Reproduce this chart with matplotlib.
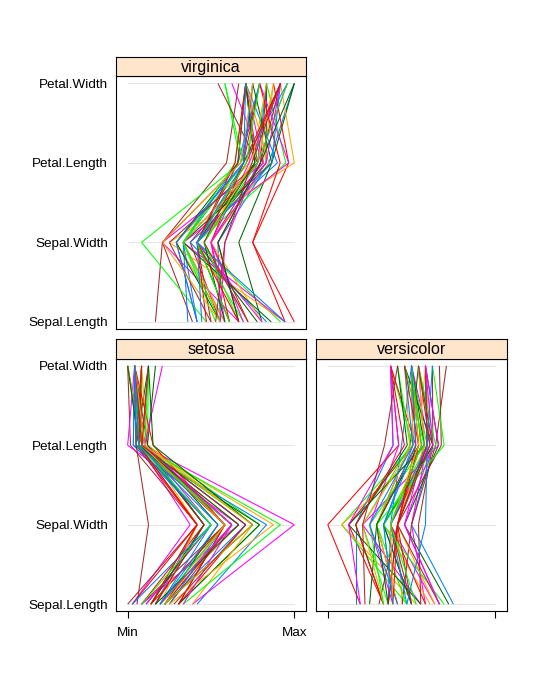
import matplotlib
matplotlib.use("Agg")
import matplotlib.pyplot as plt
from matplotlib.collections import LineCollection
import numpy as np

plt.rcParams['font.family'] = ['Liberation Sans', 'DejaVu Sans']

variables = ["Sepal.Length", "Sepal.Width", "Petal.Length", "Petal.Width"]
species_names = ["setosa", "versicolor", "virginica"]
species_counts = [50, 50, 50]

sepal_length = [
    5.1, 4.9, 4.7, 4.6, 5.0, 5.4, 4.6, 5.0, 4.4, 4.9, 5.4, 4.8, 4.8, 4.3, 5.8, 5.7, 5.4, 5.1, 5.7, 5.1,
    5.4, 5.1, 4.6, 5.1, 4.8, 5.0, 5.0, 5.2, 5.2, 4.7, 4.8, 5.4, 5.2, 5.5, 4.9, 5.0, 5.5, 4.9, 4.4, 5.1,
    5.0, 4.5, 4.4, 5.0, 5.1, 4.8, 5.1, 4.6, 5.3, 5.0,
    7.0, 6.4, 6.9, 5.5, 6.5, 5.7, 6.3, 4.9, 6.6, 5.2, 5.0, 5.9, 6.0, 6.1, 5.6, 6.7, 5.6, 5.8, 6.2, 5.6,
    5.9, 6.1, 6.3, 6.1, 6.4, 6.6, 6.8, 6.7, 6.0, 5.7, 5.5, 5.5, 5.8, 6.0, 5.4, 6.0, 6.7, 6.3, 5.6, 5.5,
    5.5, 6.1, 5.8, 5.0, 5.6, 5.7, 5.7, 6.2, 5.1, 5.7,
    6.3, 5.8, 7.1, 6.3, 6.5, 7.6, 4.9, 7.3, 6.7, 7.2, 6.5, 6.4, 6.8, 5.7, 5.8, 6.4, 6.5, 7.7, 7.7, 6.0,
    6.9, 5.6, 7.7, 6.3, 6.7, 7.2, 6.2, 6.1, 6.4, 7.2, 7.4, 7.9, 6.4, 6.3, 6.1, 7.7, 6.3, 6.4, 6.0, 6.9,
    6.7, 6.9, 5.8, 6.8, 6.7, 6.7, 6.3, 6.5, 6.2, 5.9,
]
sepal_width = [
    3.5, 3.0, 3.2, 3.1, 3.6, 3.9, 3.4, 3.4, 2.9, 3.1, 3.7, 3.4, 3.0, 3.0, 4.0, 4.4, 3.9, 3.5, 3.8, 3.8,
    3.4, 3.7, 3.6, 3.3, 3.4, 3.0, 3.4, 3.5, 3.4, 3.2, 3.1, 3.4, 4.1, 4.2, 3.1, 3.2, 3.5, 3.6, 3.0, 3.4,
    3.5, 2.3, 3.2, 3.5, 3.8, 3.0, 3.8, 3.2, 3.7, 3.3,
    3.2, 3.2, 3.1, 2.3, 2.8, 2.8, 3.3, 2.4, 2.9, 2.7, 2.0, 3.0, 2.2, 2.9, 2.9, 3.1, 3.0, 2.7, 2.2, 2.5,
    3.2, 2.8, 2.5, 2.8, 2.9, 3.0, 2.8, 3.0, 2.9, 2.6, 2.4, 2.4, 2.7, 2.7, 3.0, 3.4, 3.1, 2.3, 3.0, 2.5,
    2.6, 3.0, 2.6, 2.3, 2.7, 3.0, 2.9, 2.9, 2.5, 2.8,
    3.3, 2.7, 3.0, 2.9, 3.0, 3.0, 2.5, 2.9, 2.5, 3.6, 3.2, 2.7, 3.0, 2.5, 2.8, 3.2, 3.0, 3.8, 2.6, 2.2,
    3.2, 2.8, 2.8, 2.7, 3.3, 3.2, 2.8, 3.0, 2.8, 3.0, 2.8, 3.8, 2.8, 2.8, 2.6, 3.0, 3.4, 3.1, 3.0, 3.1,
    3.1, 3.1, 2.7, 3.2, 3.3, 3.0, 2.5, 3.0, 3.4, 3.0,
]
petal_length = [
    1.4, 1.4, 1.3, 1.5, 1.4, 1.7, 1.4, 1.5, 1.4, 1.5, 1.5, 1.6, 1.4, 1.1, 1.2, 1.5, 1.3, 1.4, 1.7, 1.5,
    1.7, 1.5, 1.0, 1.7, 1.9, 1.6, 1.6, 1.5, 1.4, 1.6, 1.6, 1.5, 1.5, 1.4, 1.5, 1.2, 1.3, 1.4, 1.3, 1.5,
    1.3, 1.3, 1.3, 1.6, 1.9, 1.4, 1.6, 1.4, 1.5, 1.4,
    4.7, 4.5, 4.9, 4.0, 4.6, 4.5, 4.7, 3.3, 4.6, 3.9, 3.5, 4.2, 4.0, 4.7, 3.6, 4.4, 4.5, 4.1, 4.5, 3.9,
    4.8, 4.0, 4.9, 4.7, 4.3, 4.4, 4.8, 5.0, 4.5, 3.5, 3.8, 3.7, 3.9, 5.1, 4.5, 4.5, 4.7, 4.4, 4.1, 4.0,
    4.4, 4.6, 4.0, 3.3, 4.2, 4.2, 4.2, 4.3, 3.0, 4.1,
    6.0, 5.1, 5.9, 5.6, 5.8, 6.6, 4.5, 6.3, 5.8, 6.1, 5.1, 5.3, 5.5, 5.0, 5.1, 5.3, 5.5, 6.7, 6.9, 5.0,
    5.7, 4.9, 6.7, 4.9, 5.7, 6.0, 4.8, 4.9, 5.6, 5.8, 6.1, 6.4, 5.6, 5.1, 5.6, 6.1, 5.6, 5.5, 4.8, 5.4,
    5.6, 5.1, 5.1, 5.9, 5.7, 5.2, 5.0, 5.2, 5.4, 5.1,
]
petal_width = [
    0.2, 0.2, 0.2, 0.2, 0.2, 0.4, 0.3, 0.2, 0.2, 0.1, 0.2, 0.2, 0.1, 0.1, 0.2, 0.4, 0.4, 0.3, 0.3, 0.3,
    0.2, 0.4, 0.2, 0.5, 0.2, 0.2, 0.4, 0.2, 0.2, 0.2, 0.2, 0.4, 0.1, 0.2, 0.2, 0.2, 0.2, 0.1, 0.2, 0.2,
    0.3, 0.3, 0.2, 0.6, 0.4, 0.3, 0.2, 0.2, 0.2, 0.2,
    1.4, 1.5, 1.5, 1.3, 1.5, 1.3, 1.6, 1.0, 1.3, 1.4, 1.0, 1.5, 1.0, 1.4, 1.3, 1.4, 1.5, 1.0, 1.5, 1.1,
    1.8, 1.3, 1.5, 1.2, 1.3, 1.4, 1.4, 1.7, 1.5, 1.0, 1.1, 1.0, 1.2, 1.6, 1.5, 1.6, 1.5, 1.3, 1.3, 1.3,
    1.2, 1.4, 1.2, 1.0, 1.3, 1.2, 1.3, 1.3, 1.1, 1.3,
    2.5, 1.9, 2.1, 1.8, 2.2, 2.1, 1.7, 1.8, 1.8, 2.5, 2.0, 1.9, 2.1, 2.0, 2.4, 2.3, 1.8, 2.2, 2.3, 1.5,
    2.3, 2.0, 2.0, 1.8, 2.1, 1.8, 1.8, 1.8, 2.1, 1.6, 1.9, 2.0, 2.2, 1.5, 1.4, 2.3, 2.4, 1.8, 1.8, 2.1,
    2.4, 2.3, 1.9, 2.3, 2.5, 2.3, 1.9, 2.0, 2.3, 1.8,
]

x_tick_labels = ["Min", "Max"]
line_colors = ["#0080ff", "#ff00ff", "#006400", "#ff0000", "#ffa500", "#00ff00", "#a52a2a"]
strip_color = "#ffe5cc"
ref_color = "#e6e6e6"

W, H = 538, 677
fig = plt.figure(figsize=(W / 100, H / 100), dpi=100)
fig.patch.set_facecolor("white")

data = np.array([sepal_length, sepal_width, petal_length, petal_width], dtype=float).T
lo = data.min(axis=0)
hi = data.max(axis=0)
scaled = (data - lo) / (hi - lo)

species = []
for name, cnt in zip(species_names, species_counts):
    species += [name] * cnt
species = np.array(species)

# panel positions in pixels: (left, right, top_of_plot, bottom_of_plot, strip_top)
panels = {
    "virginica": (116, 306, 76.3, 329, 57.3),
    "setosa": (116, 306, 358.7, 611.3, 339.3),
    "versicolor": (316, 507, 358.7, 611.3, 339.3),
}

def fig_rect(l, r, t, b):
    return [l / W, (H - b) / H, (r - l) / W, (b - t) / H]

nv = len(variables)
ypad = 0.03 * (nv - 1)
for name, (l, r, t, b, st) in panels.items():
    ax = fig.add_axes(fig_rect(l, r, t, b))
    ax.set_xlim(-0.07, 1.07)
    ax.set_ylim(1 - ypad, nv + ypad)
    for s in ax.spines.values():
        s.set_linewidth(0.8)
        s.set_color("black")
    # reference lines
    for i in range(nv):
        ax.plot([0, 1], [i + 1, i + 1], color=ref_color, lw=0.8, zorder=1)
    z = scaled[species == name]
    cols = [line_colors[k % len(line_colors)] for k in range(len(z))]
    for i in range(nv - 1):
        segs = [[(z[k, i], i + 1), (z[k, i + 1], i + 2)] for k in range(len(z))]
        lc = LineCollection(segs, colors=cols, linewidths=0.75, antialiased=True, zorder=2)
        ax.add_collection(lc)

    # axes ticks
    ax.set_yticks(range(1, nv + 1))
    if name in ("virginica", "setosa"):
        ax.set_yticklabels(variables, fontsize=9.7)
        ax.tick_params(axis="y", length=0, pad=5.8)
    else:
        ax.set_yticklabels([])
        ax.tick_params(axis="y", length=0)
    ax.set_xticks([0, 1])
    if name == "virginica":
        ax.tick_params(axis="x", bottom=False, labelbottom=False, top=True, labeltop=False,
                       direction="out", length=5, width=0.8)
    elif name == "setosa":
        ax.set_xticklabels(x_tick_labels, fontsize=9.7)
        ax.tick_params(axis="x", direction="out", length=5, width=0.8, pad=6.5)
    else:
        ax.set_xticklabels([])
        ax.tick_params(axis="x", direction="out", length=5, width=0.8)

    # strip
    sax = fig.add_axes(fig_rect(l, r, st, t))
    sax.set_facecolor(strip_color)
    sax.set_xticks([])
    sax.set_yticks([])
    for s in sax.spines.values():
        s.set_linewidth(0.8)
        s.set_color("black")
    sax.text(0.5, 0.45, name, ha="center", va="center", fontsize=11.6, transform=sax.transAxes)

fig.savefig("out.png", dpi=100, facecolor="white")
